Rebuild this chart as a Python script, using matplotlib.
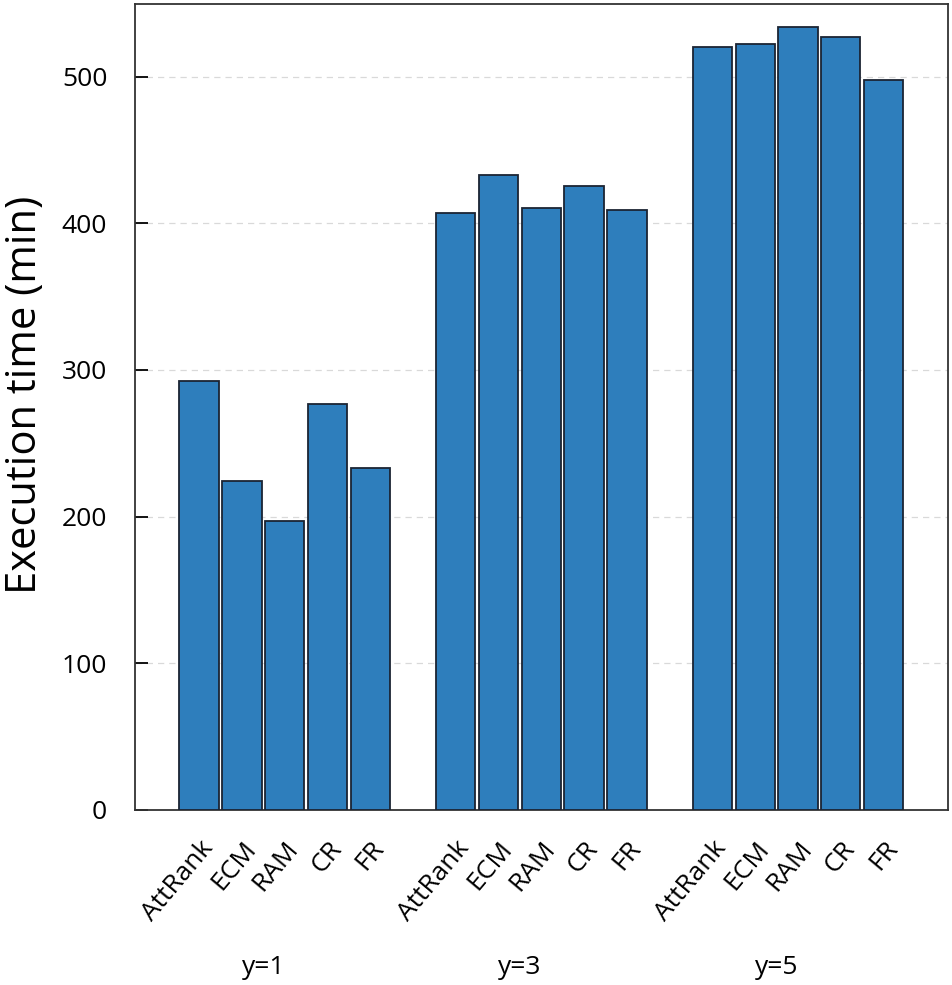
import matplotlib.pyplot as plt
import numpy as np

plt.rcParams['font.family'] = ['Open Sans', 'DejaVu Sans']

# data
methods = ['AttRank', 'ECM', 'RAM', 'CR', 'FR']
groups = ['y=1', 'y=3', 'y=5']
times = [
    [292.5, 224.3, 196.8, 276.8, 233.0],   # y=1
    [407.3, 433.0, 410.2, 425.5, 408.9],   # y=3
    [520.2, 522.3, 533.9, 527.3, 498.0],   # y=5
]

fig = plt.figure(figsize=(9.52, 9.85), dpi=100)
ax = fig.add_axes([0.1418, 0.1777, 0.8537, 0.8182])

pos = []
vals = []
labels = []
for g, row in enumerate(times):
    for i, v in enumerate(row):
        pos.append(g * 6 + i)
        vals.append(v)
        labels.append(methods[i])

ax.bar(pos, vals, width=0.92, color='#2e7ebc', edgecolor='#1b2433', linewidth=1.3, zorder=3)

ax.set_xlim(-1.5, 17.5)
ax.set_ylim(0, 549.5)
ax.set_yticks([0, 100, 200, 300, 400, 500])
ax.yaxis.grid(True, linestyle=(0, (5, 4)), color='#d9d9d9', linewidth=0.9, zorder=0)

ax.set_xticks(pos)
ax.set_xticklabels(labels, rotation=50, ha='right', rotation_mode='anchor', fontsize=19)
ax.tick_params(axis='x', length=0, pad=19)
ax.tick_params(axis='y', direction='in', length=9, width=1.3, labelsize=19, pad=20)

for g, name in enumerate(groups):
    ax.text(g * 6 + 1.5, -0.195, name, transform=ax.get_xaxis_transform(),
            ha='center', va='center', fontsize=19)

ax.set_ylabel('Execution time (min)', fontsize=30)
ax.yaxis.set_label_coords(-0.11, 0.515)

for s in ax.spines.values():
    s.set_color('#333333')
    s.set_linewidth(1.3)

fig.savefig('out.png', dpi=100)
